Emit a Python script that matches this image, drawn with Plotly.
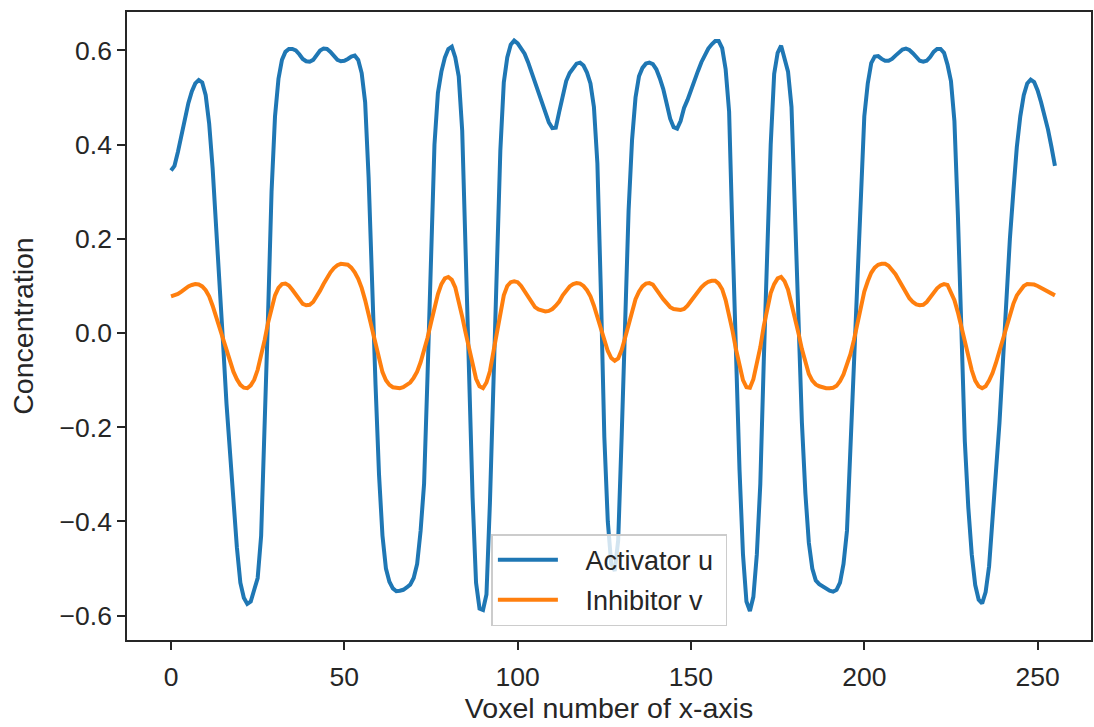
import plotly.graph_objects as go

# Voxel index along the x-axis
voxel = list(range(256))

# Activator concentration u at each voxel
activator_u = [
    0.345, 0.355, 0.385, 0.420, 0.455, 0.488, 0.513, 0.530, 0.537, 0.532,
    0.505, 0.445, 0.350, 0.235, 0.110, -0.020, -0.150, -0.260, -0.360, -0.455,
    -0.530, -0.562, -0.575, -0.570, -0.545, -0.520, -0.430, -0.220, 0.040, 0.300,
    0.460, 0.540, 0.580, 0.597, 0.603, 0.603, 0.600, 0.592, 0.582, 0.577,
    0.576, 0.580, 0.590, 0.600, 0.604, 0.603, 0.597, 0.588, 0.580, 0.577,
    0.578, 0.582, 0.587, 0.589, 0.580, 0.552, 0.490, 0.330, 0.090, -0.110,
    -0.300, -0.430, -0.500, -0.528, -0.542, -0.548, -0.547, -0.545, -0.540, -0.534,
    -0.520, -0.490, -0.420, -0.320, -0.090, 0.180, 0.400, 0.510, 0.555, 0.585,
    0.603, 0.608, 0.585, 0.545, 0.430, 0.170, -0.090, -0.350, -0.530, -0.585,
    -0.588, -0.555, -0.360, -0.100, 0.175, 0.387, 0.532, 0.585, 0.612, 0.621,
    0.615, 0.605, 0.593, 0.575, 0.553, 0.530, 0.510, 0.490, 0.468, 0.447,
    0.435, 0.436, 0.470, 0.505, 0.535, 0.552, 0.563, 0.572, 0.574, 0.568,
    0.553, 0.530, 0.480, 0.360, 0.090, -0.220, -0.400, -0.490, -0.505, -0.440,
    -0.220, 0.030, 0.260, 0.410, 0.500, 0.545, 0.563, 0.572, 0.574, 0.571,
    0.560, 0.541, 0.518, 0.487, 0.455, 0.437, 0.434, 0.450, 0.478, 0.495,
    0.517, 0.538, 0.556, 0.575, 0.592, 0.604, 0.613, 0.620, 0.620, 0.605,
    0.560, 0.470, 0.200, -0.050, -0.290, -0.470, -0.570, -0.590, -0.560, -0.470,
    -0.320, -0.060, 0.200, 0.400, 0.550, 0.595, 0.610, 0.585, 0.555, 0.480,
    0.270, 0.000, -0.190, -0.340, -0.445, -0.500, -0.525, -0.533, -0.538, -0.543,
    -0.547, -0.549, -0.545, -0.530, -0.490, -0.420, -0.250, -0.050, 0.110, 0.300,
    0.460, 0.530, 0.573, 0.587, 0.588, 0.582, 0.578, 0.578, 0.582, 0.589,
    0.597, 0.602, 0.604, 0.601, 0.594, 0.585, 0.578, 0.576, 0.578, 0.586,
    0.597, 0.603, 0.603, 0.595, 0.570, 0.535, 0.450, 0.250, 0.000, -0.230,
    -0.370, -0.470, -0.535, -0.566, -0.574, -0.550, -0.495, -0.400, -0.300, -0.190,
    -0.060, 0.080, 0.200, 0.300, 0.395, 0.460, 0.505, 0.530, 0.538, 0.533,
    0.515, 0.490, 0.462, 0.432, 0.395, 0.355,
]

# Inhibitor concentration v at each voxel
inhibitor_v = [
    0.078, 0.080, 0.083, 0.088, 0.094, 0.099, 0.102, 0.104, 0.103, 0.099,
    0.091, 0.078, 0.058, 0.035, 0.010, -0.016, -0.040, -0.062, -0.082, -0.098,
    -0.110, -0.116, -0.117, -0.111, -0.099, -0.078, -0.050, -0.015, 0.022, 0.055,
    0.080, 0.096, 0.104, 0.105, 0.101, 0.092, 0.081, 0.070, 0.062, 0.059,
    0.060, 0.066, 0.077, 0.090, 0.104, 0.118, 0.129, 0.138, 0.144, 0.147,
    0.147, 0.145, 0.139, 0.129, 0.115, 0.096, 0.070, 0.040, 0.008, -0.025,
    -0.057, -0.083, -0.100, -0.110, -0.115, -0.117, -0.117, -0.115, -0.111, -0.105,
    -0.095, -0.082, -0.062, -0.038, -0.010, 0.022, 0.055, 0.083, 0.104, 0.116,
    0.119, 0.113, 0.097, 0.068, 0.035, 0.000, -0.035, -0.068, -0.097, -0.113,
    -0.117, -0.105, -0.081, -0.040, 0.004, 0.045, 0.080, 0.100, 0.108, 0.110,
    0.108, 0.100, 0.088, 0.076, 0.064, 0.055, 0.050, 0.047, 0.046, 0.047,
    0.051, 0.058, 0.067, 0.080, 0.091, 0.099, 0.104, 0.106, 0.105, 0.100,
    0.091, 0.078, 0.058, 0.034, 0.008, -0.016, -0.038, -0.053, -0.059, -0.054,
    -0.036, -0.010, 0.020, 0.050, 0.072, 0.088, 0.099, 0.105, 0.106, 0.103,
    0.094, 0.082, 0.072, 0.062, 0.055, 0.051, 0.049, 0.049, 0.051, 0.058,
    0.068, 0.078, 0.088, 0.097, 0.104, 0.109, 0.111, 0.111, 0.105, 0.093,
    0.070, 0.040, 0.004, -0.035, -0.072, -0.100, -0.115, -0.116, -0.098, -0.068,
    -0.030, 0.015, 0.055, 0.085, 0.104, 0.116, 0.119, 0.110, 0.092, 0.064,
    0.032, 0.000, -0.034, -0.065, -0.087, -0.101, -0.109, -0.113, -0.116, -0.117,
    -0.117, -0.116, -0.112, -0.102, -0.088, -0.068, -0.045, -0.015, 0.020, 0.055,
    0.088, 0.110, 0.128, 0.139, 0.145, 0.147, 0.147, 0.143, 0.135, 0.125,
    0.112, 0.098, 0.085, 0.074, 0.066, 0.061, 0.059, 0.060, 0.066, 0.076,
    0.086, 0.095, 0.101, 0.104, 0.102, 0.088, 0.070, 0.044, 0.014, -0.018,
    -0.050, -0.079, -0.101, -0.113, -0.117, -0.113, -0.101, -0.085, -0.063, -0.038,
    -0.012, 0.015, 0.040, 0.062, 0.080, 0.092, 0.100, 0.104, 0.104, 0.103,
    0.100, 0.096, 0.092, 0.087, 0.083, 0.080,
]

series_names = ["Activator u", "Inhibitor v"]
x_tick_values = [0, 50, 100, 150, 200, 250]
y_tick_values = [-0.6, -0.4, -0.2, 0.0, 0.2, 0.4, 0.6]

INK = "#262626"
FONT = "Liberation Sans, Arial, Helvetica, sans-serif"
PAD = "\u00a0\u00a0\u00a0"  # spacing between legend line sample and label

fig = go.Figure()
fig.add_trace(go.Scatter(x=voxel, y=activator_u, mode="lines", name=PAD + series_names[0] + "\u00a0",
                         legendgroup="u",
                         line=dict(color="#1f77b4", width=4)))
fig.add_trace(go.Scatter(x=voxel, y=inhibitor_v, mode="lines", name=PAD + series_names[1] + "\u00a0",
                         legendgroup="v",
                         line=dict(color="#ff7f0e", width=4)))

axis_common = dict(
    showline=True, linecolor=INK, linewidth=1.5, mirror=True,
    ticks="outside", ticklen=8, tickwidth=1.5, tickcolor=INK,
    showgrid=False, zeroline=False,
    tickfont=dict(family=FONT, size=26.5, color=INK),
)

fig.update_layout(
    width=1094, height=727,
    margin=dict(l=127, r=3, t=12, b=87, autoexpand=False),
    paper_bgcolor="white", plot_bgcolor="white",
    font=dict(family=FONT, color=INK),
    xaxis=dict(
        **axis_common,
        range=[-12.7, 265.4], tickvals=x_tick_values,
        ticklabelstandoff=4,
        title=dict(text="Voxel number of x-axis", font=dict(family=FONT, size=28.5, color=INK), standoff=6),
        automargin=False,
    ),
    yaxis=dict(
        **axis_common,
        range=[-0.6516, 0.6816], tickvals=y_tick_values, tickformat=".1f",
        ticklabelstandoff=0,
        title=dict(text="Concentration", font=dict(family=FONT, size=28.5, color=INK), standoff=18),
        automargin=False,
    ),
    legend=dict(
        x=0.378, y=0.022, xanchor="left", yanchor="bottom",
        bgcolor="rgba(255,255,255,0.8)", bordercolor="#cccccc", borderwidth=1.5,
        font=dict(family=FONT, size=27, color=INK),
        tracegroupgap=2, itemwidth=60,
    ),
    showlegend=True,
)

fig.write_html("out.html")
